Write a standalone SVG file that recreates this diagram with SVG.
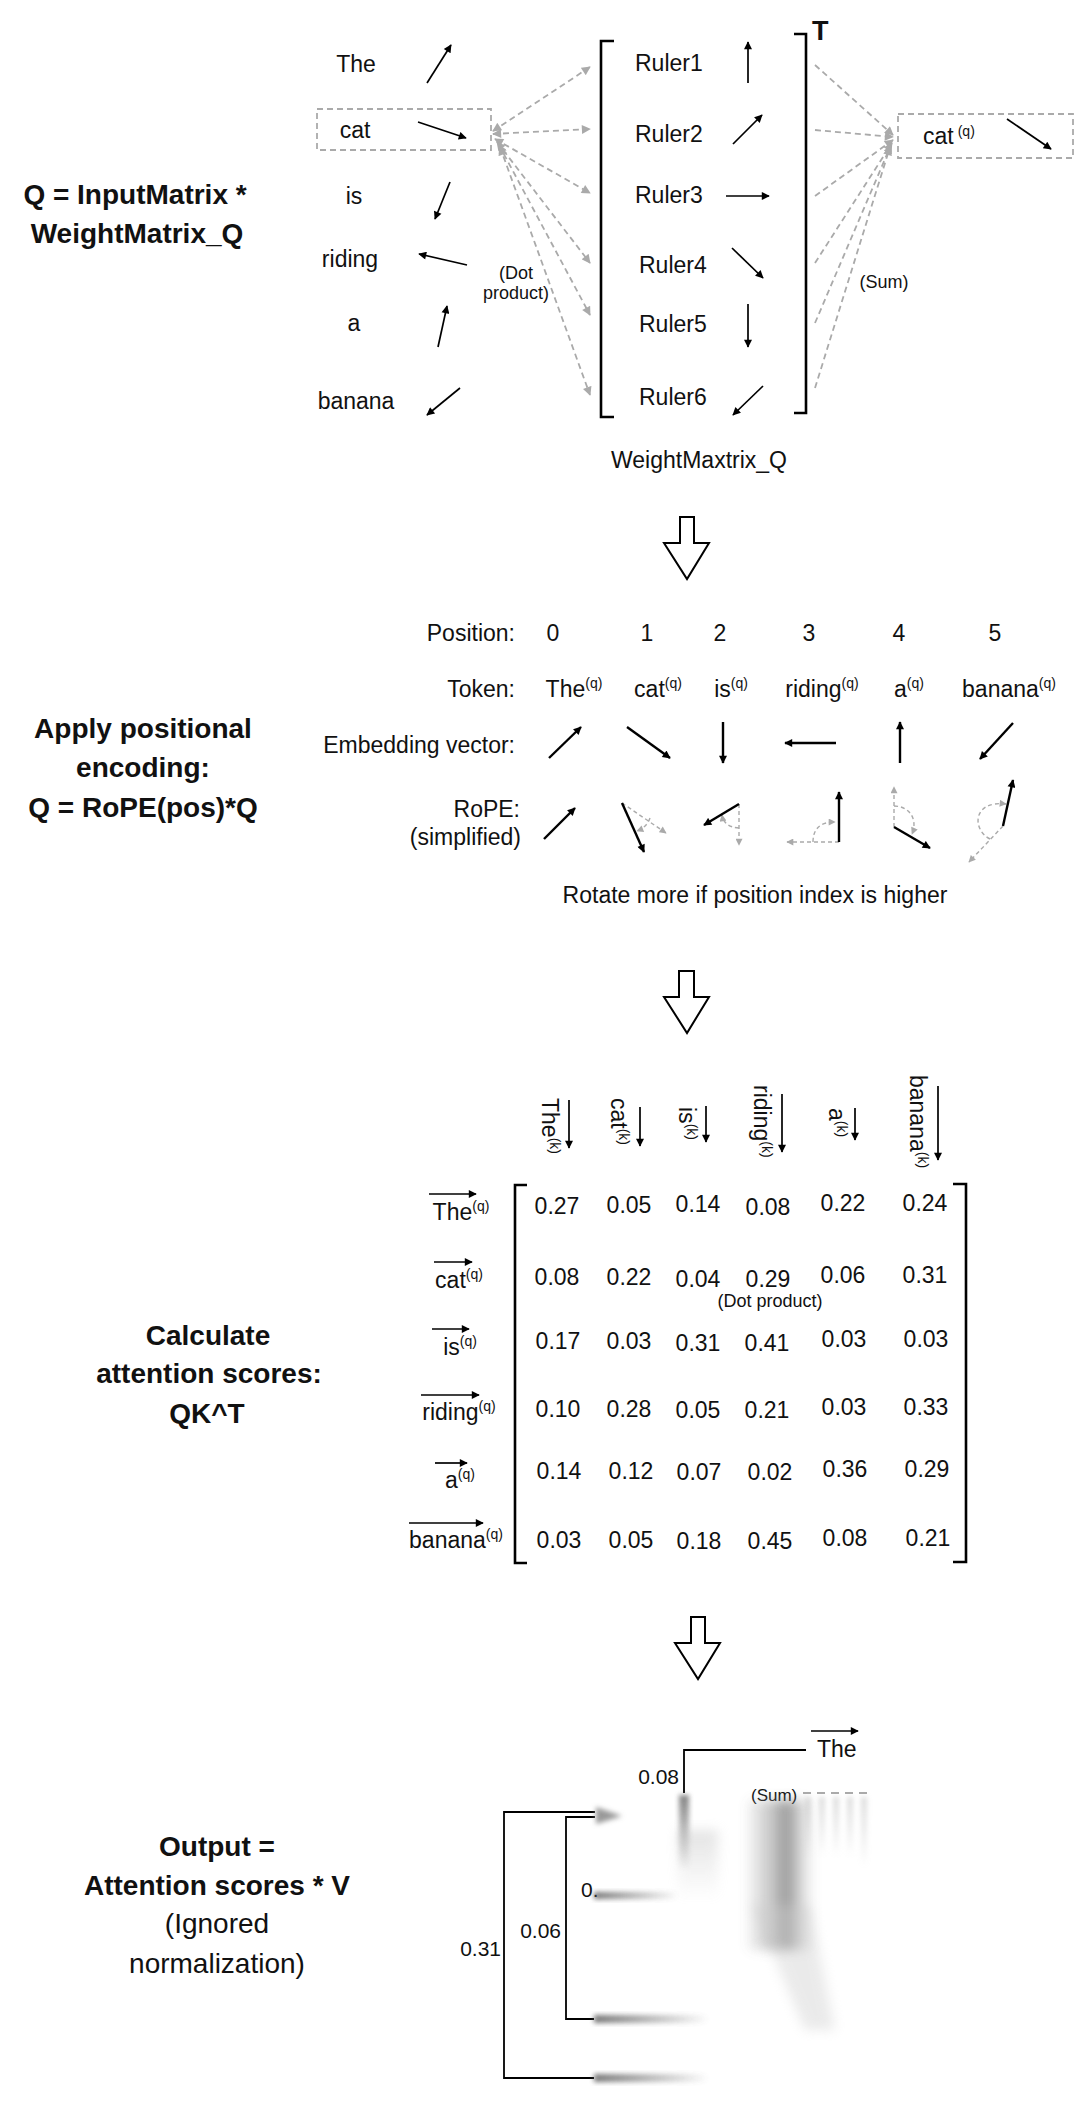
<svg xmlns="http://www.w3.org/2000/svg" width="1080" height="2109" viewBox="0 0 1080 2109">
<style>
text{font-family:"Liberation Sans",Arial,sans-serif;fill:#111}
.t{font-size:23px}
.b{font-size:28px;font-weight:bold}
.s{font-size:18px}
.m{text-anchor:middle}
.e{text-anchor:end}
.ar{stroke:#000;stroke-width:1.7;fill:none;marker-end:url(#ah)}
.ar2{stroke:#000;stroke-width:2.4;fill:none;marker-end:url(#ah)}
.gd{stroke:#aaa;stroke-width:1.8;stroke-dasharray:6 4;fill:none}
.gda{stroke:#aaa;stroke-width:1.8;stroke-dasharray:6 4;fill:none;marker-end:url(#ahg)}
.gdd{stroke:#aaa;stroke-width:1.8;stroke-dasharray:6 4;fill:none;marker-end:url(#ahg);marker-start:url(#ahgs)}
.gs{stroke:#aaa;stroke-width:1.4;stroke-dasharray:4 3;fill:none;marker-end:url(#ahgsm)}
.br{stroke:#000;stroke-width:2.6;fill:none}
.ln{stroke:#000;stroke-width:1.8;fill:none}
.blk{fill:#fff;stroke:#000;stroke-width:2}
</style>
<defs>
<marker id="ah" viewBox="0 0 10 10" refX="9" refY="5" markerWidth="10" markerHeight="8" markerUnits="userSpaceOnUse" orient="auto"><path d="M0,0 L10,5 L0,10 z" fill="#000"/></marker>
<marker id="ahg" viewBox="0 0 10 10" refX="9" refY="5" markerWidth="10" markerHeight="9" markerUnits="userSpaceOnUse" orient="auto"><path d="M0,0 L10,5 L0,10 z" fill="#aaa"/></marker>
<marker id="ahgs" viewBox="0 0 10 10" refX="9" refY="5" markerWidth="10" markerHeight="9" markerUnits="userSpaceOnUse" orient="auto-start-reverse"><path d="M0,0 L10,5 L0,10 z" fill="#aaa"/></marker>
<marker id="ahgsm" viewBox="0 0 10 10" refX="9" refY="5" markerWidth="8" markerHeight="7" markerUnits="userSpaceOnUse" orient="auto"><path d="M0,0 L10,5 L0,10 z" fill="#aaa"/></marker>
<filter id="blur" x="-50%" y="-50%" width="200%" height="200%"><feGaussianBlur stdDeviation="6"/></filter>
<filter id="blur2" x="-50%" y="-50%" width="200%" height="200%"><feGaussianBlur stdDeviation="2.5"/></filter>
<linearGradient id="fadeR" x1="0" x2="1" y1="0" y2="0"><stop offset="0" stop-color="#555"/><stop offset="1" stop-color="#555" stop-opacity="0"/></linearGradient>
<linearGradient id="fadeD" x1="0" x2="0" y1="0" y2="1"><stop offset="0" stop-color="#666"/><stop offset="1" stop-color="#666" stop-opacity="0"/></linearGradient>
<linearGradient id="fadeDL" x1="0" x2="0" y1="0" y2="1"><stop offset="0" stop-color="#bbb"/><stop offset="1" stop-color="#bbb" stop-opacity="0"/></linearGradient>
<linearGradient id="band" x1="0" x2="1" y1="0" y2="0"><stop offset="0" stop-color="#888" stop-opacity="0"/><stop offset="0.3" stop-color="#aaa" stop-opacity="0.6"/><stop offset="0.6" stop-color="#666" stop-opacity="0.8"/><stop offset="1" stop-color="#aaa" stop-opacity="0"/></linearGradient>
<linearGradient id="bandV" x1="0" x2="0" y1="0" y2="1"><stop offset="0" stop-color="#fff" stop-opacity="0"/><stop offset="0.75" stop-color="#fff" stop-opacity="0"/><stop offset="1" stop-color="#fff" stop-opacity="0.9"/></linearGradient>
</defs>

<!-- ===== Section 1 ===== -->
<g id="title1">
<text class="b m" x="135" y="204">Q = InputMatrix *</text>
<text class="b m" x="137" y="243">WeightMatrix_Q</text>
</g>
<g id="words">
<text class="t m" x="356" y="72">The</text>
<text class="t m" x="355" y="138">cat</text>
<text class="t m" x="354" y="204">is</text>
<text class="t m" x="350" y="267">riding</text>
<text class="t m" x="354" y="331">a</text>
<text class="t m" x="356" y="409">banana</text>
</g>
<g id="cat-box"><rect x="317" y="109" width="174" height="41" class="gd"/></g>
<g id="word-vectors">
<line x1="427" y1="83" x2="451" y2="45" class="ar"/>
<line x1="418" y1="122" x2="466" y2="138" class="ar"/>
<line x1="450" y1="182" x2="435" y2="219" class="ar"/>
<line x1="467" y1="265" x2="419" y2="254" class="ar"/>
<line x1="438" y1="347" x2="447" y2="306" class="ar"/>
<line x1="460" y1="388" x2="427" y2="415" class="ar"/>
</g>
<g id="weight-matrix">
<path class="br" d="M614,41 H601 V417 H614"/>
<path class="br" d="M794,34 H806 V413 H794"/>
<text x="812" y="40" style="font-size:27px;font-weight:bold">T</text>
<text class="t" x="635" y="71">Ruler1</text>
<text class="t" x="635" y="142">Ruler2</text>
<text class="t" x="635" y="203">Ruler3</text>
<text class="t" x="639" y="273">Ruler4</text>
<text class="t" x="639" y="332">Ruler5</text>
<text class="t" x="639" y="405">Ruler6</text>
<line x1="748" y1="83" x2="748" y2="42" class="ar"/>
<line x1="733" y1="144" x2="762" y2="115" class="ar"/>
<line x1="726" y1="196" x2="769" y2="196" class="ar"/>
<line x1="732" y1="248" x2="763" y2="278" class="ar"/>
<line x1="748" y1="304" x2="748" y2="347" class="ar"/>
<line x1="763" y1="386" x2="733" y2="415" class="ar"/>
<text class="t m" x="699" y="468">WeightMaxtrix_Q</text>
</g>
<g id="catq">
<rect x="898" y="114" width="175" height="44" class="gd"/>
<text class="t" x="923" y="144">cat<tspan dx="4" dy="-8" font-size="14">(q)</tspan></text>
<line x1="1007" y1="119" x2="1051" y2="149" class="ar"/>
</g>
<g id="connectors">
<line x1="493" y1="131" x2="590" y2="67" class="gdd"/>
<line x1="493" y1="134" x2="590" y2="129" class="gdd"/>
<line x1="495" y1="139" x2="590" y2="193" class="gdd"/>
<line x1="497" y1="142" x2="590" y2="263" class="gdd"/>
<line x1="499" y1="145" x2="590" y2="315" class="gdd"/>
<line x1="500" y1="147" x2="590" y2="395" class="gdd"/>
<line x1="815" y1="65" x2="893" y2="135" class="gda"/>
<line x1="815" y1="130" x2="893" y2="137" class="gda"/>
<line x1="815" y1="196" x2="893" y2="140" class="gda"/>
<line x1="815" y1="263" x2="892" y2="143" class="gda"/>
<line x1="815" y1="323" x2="891" y2="145" class="gda"/>
<line x1="815" y1="388" x2="890" y2="147" class="gda"/>
<text class="s m" x="516" y="279">(Dot</text>
<text class="s m" x="516" y="299">product)</text>
<text class="s m" x="884" y="288">(Sum)</text>
</g>

<g id="step-arrow-1"><polygon class="blk" points="680,517 694,517 694,543 709,543 687,579 664,543 680,543"/></g>

<!-- ===== Section 2 ===== -->
<g id="title2">
<text class="b m" x="143" y="738">Apply positional</text>
<text class="b m" x="143" y="777">encoding:</text>
<text class="b m" x="143" y="817">Q = RoPE(pos)*Q</text>
</g>
<g id="rope-table">
<text class="t e" x="515" y="641">Position:</text>
<text class="t m" x="553" y="641">0</text>
<text class="t m" x="647" y="641">1</text>
<text class="t m" x="720" y="641">2</text>
<text class="t m" x="809" y="641">3</text>
<text class="t m" x="899" y="641">4</text>
<text class="t m" x="995" y="641">5</text>
<text class="t e" x="515" y="697">Token:</text>
<text class="t m" x="574" y="697">The<tspan dy="-9" font-size="14">(q)</tspan></text>
<text class="t m" x="658" y="697">cat<tspan dy="-9" font-size="14">(q)</tspan></text>
<text class="t m" x="731" y="697">is<tspan dy="-9" font-size="14">(q)</tspan></text>
<text class="t m" x="822" y="697">riding<tspan dy="-9" font-size="14">(q)</tspan></text>
<text class="t m" x="909" y="697">a<tspan dy="-9" font-size="14">(q)</tspan></text>
<text class="t m" x="1009" y="697">banana<tspan dy="-9" font-size="14">(q)</tspan></text>
<text class="t e" x="515" y="753">Embedding vector:</text>
<text class="t e" x="520" y="817">RoPE:</text>
<text class="t e" x="521" y="845">(simplified)</text>
<text class="t m" x="755" y="903">Rotate more if position index is higher</text>
</g>
<g id="embedding-vectors">
<line x1="549" y1="758" x2="581" y2="727" class="ar2"/>
<line x1="627" y1="727" x2="670" y2="758" class="ar2"/>
<line x1="723" y1="722" x2="723" y2="763" class="ar2"/>
<line x1="836" y1="743" x2="785" y2="743" class="ar2"/>
<line x1="900" y1="763" x2="900" y2="722" class="ar2"/>
<line x1="1013" y1="723" x2="980" y2="759" class="ar2"/>
</g>
<g id="rope-vectors">
<line x1="544" y1="839" x2="575" y2="808" class="ar2"/>
<line x1="622" y1="803" x2="666" y2="833" class="gs"/>
<path d="M650,818 Q647,827 637,831" class="gs"/>
<line x1="622" y1="803" x2="644" y2="852" class="ar2"/>
<line x1="739" y1="804" x2="739" y2="845" class="gs"/>
<path d="M739,828 Q724,827 722,815" class="gs"/>
<line x1="739" y1="804" x2="704" y2="825" class="ar2"/>
<line x1="839" y1="842" x2="787" y2="842" class="gs"/>
<path d="M813,842 Q813,822 835,822" class="gs"/>
<line x1="839" y1="842" x2="839" y2="792" class="ar2"/>
<line x1="894" y1="827" x2="894" y2="787" class="gs"/>
<path d="M894,806 C910,806 918,820 912,834" class="gs"/>
<line x1="894" y1="827" x2="930" y2="848" class="ar2"/>
<line x1="1003" y1="826" x2="969" y2="862" class="gs"/>
<path d="M990,839 C972,830 972,800 1006,804" class="gs"/>
<line x1="1003" y1="826" x2="1013" y2="780" class="ar2"/>
</g>

<g id="step-arrow-2"><polygon class="blk" points="679,971 694,971 694,997 709,997 687,1033 664,997 679,997"/></g>

<!-- ===== Section 3 ===== -->
<g id="title3">
<text class="b m" x="208" y="1345">Calculate</text>
<text class="b m" x="209" y="1383">attention scores:</text>
<text class="b m" x="207" y="1423">QK^T</text>
</g>
<g id="key-headers">
<text class="t" transform="translate(542,1098) rotate(90)">The<tspan dy="-8" font-size="14">(k)</tspan></text>
<text class="t" transform="translate(611,1098) rotate(90)">cat<tspan dy="-8" font-size="14">(k)</tspan></text>
<text class="t" transform="translate(679,1107) rotate(90)">is<tspan dy="-8" font-size="14">(k)</tspan></text>
<text class="t" transform="translate(754,1085) rotate(90)">riding<tspan dy="-8" font-size="14">(k)</tspan></text>
<text class="t" transform="translate(829,1108) rotate(90)">a<tspan dy="-8" font-size="14">(k)</tspan></text>
<text class="t" transform="translate(910,1075) rotate(90)">banana<tspan dy="-8" font-size="14">(k)</tspan></text>
<line x1="569" y1="1100" x2="569" y2="1148" class="ar"/>
<line x1="640" y1="1107" x2="640" y2="1146" class="ar"/>
<line x1="706" y1="1106" x2="706" y2="1142" class="ar"/>
<line x1="782" y1="1094" x2="782" y2="1152" class="ar"/>
<line x1="855" y1="1108" x2="855" y2="1140" class="ar"/>
<line x1="938" y1="1086" x2="938" y2="1160" class="ar"/>
</g>
<g id="query-rows">
<line x1="429" y1="1194" x2="476" y2="1194" class="ar"/>
<text class="t m" x="461" y="1220">The<tspan dy="-9" font-size="14">(q)</tspan></text>
<line x1="434" y1="1262" x2="472" y2="1262" class="ar"/>
<text class="t m" x="459" y="1288">cat<tspan dy="-9" font-size="14">(q)</tspan></text>
<line x1="432" y1="1329" x2="469" y2="1329" class="ar"/>
<text class="t m" x="460" y="1355">is<tspan dy="-9" font-size="14">(q)</tspan></text>
<line x1="421" y1="1395" x2="479" y2="1395" class="ar"/>
<text class="t m" x="459" y="1420">riding<tspan dy="-9" font-size="14">(q)</tspan></text>
<line x1="435" y1="1463" x2="467" y2="1463" class="ar"/>
<text class="t m" x="460" y="1488">a<tspan dy="-9" font-size="14">(q)</tspan></text>
<line x1="409" y1="1523" x2="483" y2="1523" class="ar"/>
<text class="t m" x="456" y="1548">banana<tspan dy="-9" font-size="14">(q)</tspan></text>
</g>
<g id="score-matrix">
<path class="br" d="M527,1185 H515 V1563 H527"/>
<path class="br" d="M953,1184 H966 V1562 H953"/>
<text class="t m" x="557" y="1214">0.27</text><text class="t m" x="629" y="1213">0.05</text><text class="t m" x="698" y="1212">0.14</text><text class="t m" x="768" y="1215">0.08</text><text class="t m" x="843" y="1211">0.22</text><text class="t m" x="925" y="1211">0.24</text>
<text class="t m" x="557" y="1285">0.08</text><text class="t m" x="629" y="1285">0.22</text><text class="t m" x="698" y="1287">0.04</text><text class="t m" x="768" y="1287">0.29</text><text class="t m" x="843" y="1283">0.06</text><text class="t m" x="925" y="1283">0.31</text>
<text class="t m" x="558" y="1349">0.17</text><text class="t m" x="629" y="1349">0.03</text><text class="t m" x="698" y="1351">0.31</text><text class="t m" x="767" y="1351">0.41</text><text class="t m" x="844" y="1347">0.03</text><text class="t m" x="926" y="1347">0.03</text>
<text class="t m" x="558" y="1417">0.10</text><text class="t m" x="629" y="1417">0.28</text><text class="t m" x="698" y="1418">0.05</text><text class="t m" x="767" y="1418">0.21</text><text class="t m" x="844" y="1415">0.03</text><text class="t m" x="926" y="1415">0.33</text>
<text class="t m" x="559" y="1479">0.14</text><text class="t m" x="631" y="1479">0.12</text><text class="t m" x="699" y="1480">0.07</text><text class="t m" x="770" y="1480">0.02</text><text class="t m" x="845" y="1477">0.36</text><text class="t m" x="927" y="1477">0.29</text>
<text class="t m" x="559" y="1548">0.03</text><text class="t m" x="631" y="1548">0.05</text><text class="t m" x="699" y="1549">0.18</text><text class="t m" x="770" y="1549">0.45</text><text class="t m" x="845" y="1546">0.08</text><text class="t m" x="928" y="1546">0.21</text>
<text class="s m" x="770" y="1307">(Dot product)</text>
</g>

<g id="step-arrow-3"><polygon class="blk" points="691,1617 705,1617 705,1643 720,1643 698,1679 675,1643 691,1643"/></g>

<!-- ===== Section 4 ===== -->
<g id="title4">
<text class="b m" x="217" y="1856">Output =</text>
<text class="b m" x="217" y="1895">Attention scores * V</text>
<text class="t m" x="217" y="1933" style="font-size:28px">(Ignored</text>
<text class="t m" x="217" y="1973" style="font-size:28px">normalization)</text>
</g>
<g id="output-tree">
<line x1="811" y1="1731" x2="858" y2="1731" class="ar"/>
<text class="t" x="817" y="1757">The</text>
<path class="ln" d="M684,1793 V1750 H806"/>
<text class="t e" x="679" y="1784" style="font-size:21px">0.08</text>
<text x="751" y="1801" style="font-size:17px">(Sum)</text>
<line x1="803" y1="1793" x2="867" y2="1793" style="stroke:#aaa;stroke-width:2;stroke-dasharray:8 6"/>
<path class="ln" d="M595,1812 H504 V2078 H594"/>
<path class="ln" d="M595,1817 H566 V2019 H594"/>
<text class="t" x="581" y="1897" style="font-size:21px">0.</text>
<text class="t e" x="561" y="1938" style="font-size:21px">0.06</text>
<text class="t e" x="501" y="1956" style="font-size:21px">0.31</text>
</g>
<g id="motion-blur">
<polygon points="596,1807 622,1816 596,1824" fill="#999" filter="url(#blur2)"/>
<rect x="594" y="1892" width="85" height="7" fill="url(#fadeR)" opacity="0.8" filter="url(#blur2)"/>
<rect x="594" y="2015" width="115" height="8" fill="url(#fadeR)" opacity="0.8" filter="url(#blur2)"/>
<rect x="594" y="2074" width="115" height="8" fill="url(#fadeR)" opacity="0.8" filter="url(#blur2)"/>
<rect x="679" y="1795" width="10" height="75" fill="url(#fadeD)" opacity="0.8" filter="url(#blur2)"/>
<rect x="678" y="1830" width="40" height="70" fill="url(#fadeDL)" opacity="0.4" filter="url(#blur)"/>
<rect x="745" y="1800" width="70" height="150" fill="url(#band)" opacity="0.85" filter="url(#blur)"/>
<polygon points="752,1905 810,1905 835,2030 805,2030" fill="#ccc" opacity="0.4" filter="url(#blur)"/>
<g opacity="0.5" filter="url(#blur2)">
<rect x="805" y="1797" width="6" height="60" fill="url(#fadeDL)"/>
<rect x="819" y="1797" width="6" height="60" fill="url(#fadeDL)"/>
<rect x="833" y="1797" width="6" height="60" fill="url(#fadeDL)"/>
<rect x="847" y="1797" width="6" height="60" fill="url(#fadeDL)"/>
<rect x="861" y="1797" width="6" height="70" fill="url(#fadeDL)"/>
</g>
</g>
</svg>
